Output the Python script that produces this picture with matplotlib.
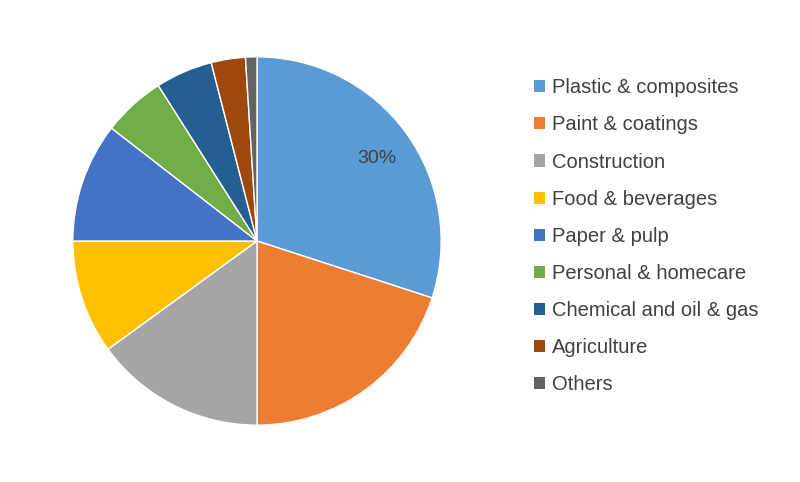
import matplotlib.pyplot as plt
from matplotlib.patches import Patch

plt.rcParams['font.family'] = ['Liberation Sans', 'DejaVu Sans']

labels = ['Plastic & composites', 'Paint & coatings', 'Construction', 'Food & beverages',
          'Paper & pulp', 'Personal & homecare', 'Chemical and oil & gas', 'Agriculture', 'Others']
shares = [30, 20, 15, 10, 10.5, 5.5, 5, 3, 1]
colors = ['#5B9BD5', '#ED7D31', '#A5A5A5', '#FFC000', '#4472C4', '#70AD47',
          '#255E91', '#9E480E', '#636363']

fig = plt.figure(figsize=(8, 4.82), dpi=100)
ax = fig.add_axes([71 / 800, 55 / 482, 372 / 800, 372 / 482])
wedges, _ = ax.pie(shares, colors=colors, startangle=90, counterclock=False,
                   wedgeprops=dict(edgecolor='white', linewidth=1))
ax.set_xlim(-1.01, 1.01)
ax.set_ylim(-1.01, 1.01)
ax.set_aspect('equal')
ax.text(0.65, 0.45, '30%', ha='center', va='center', fontsize=14, color='#404040')

handles = [Patch(facecolor=c, edgecolor='none') for c in colors]
fig.legend(handles, labels, loc='upper left', bbox_to_anchor=(0.645, 0.875), frameon=False,
           fontsize=14.5, labelspacing=0.9, handlelength=0.55, handleheight=0.55,
           handletextpad=0.35, labelcolor='#404040')
fig.savefig('out.png')
